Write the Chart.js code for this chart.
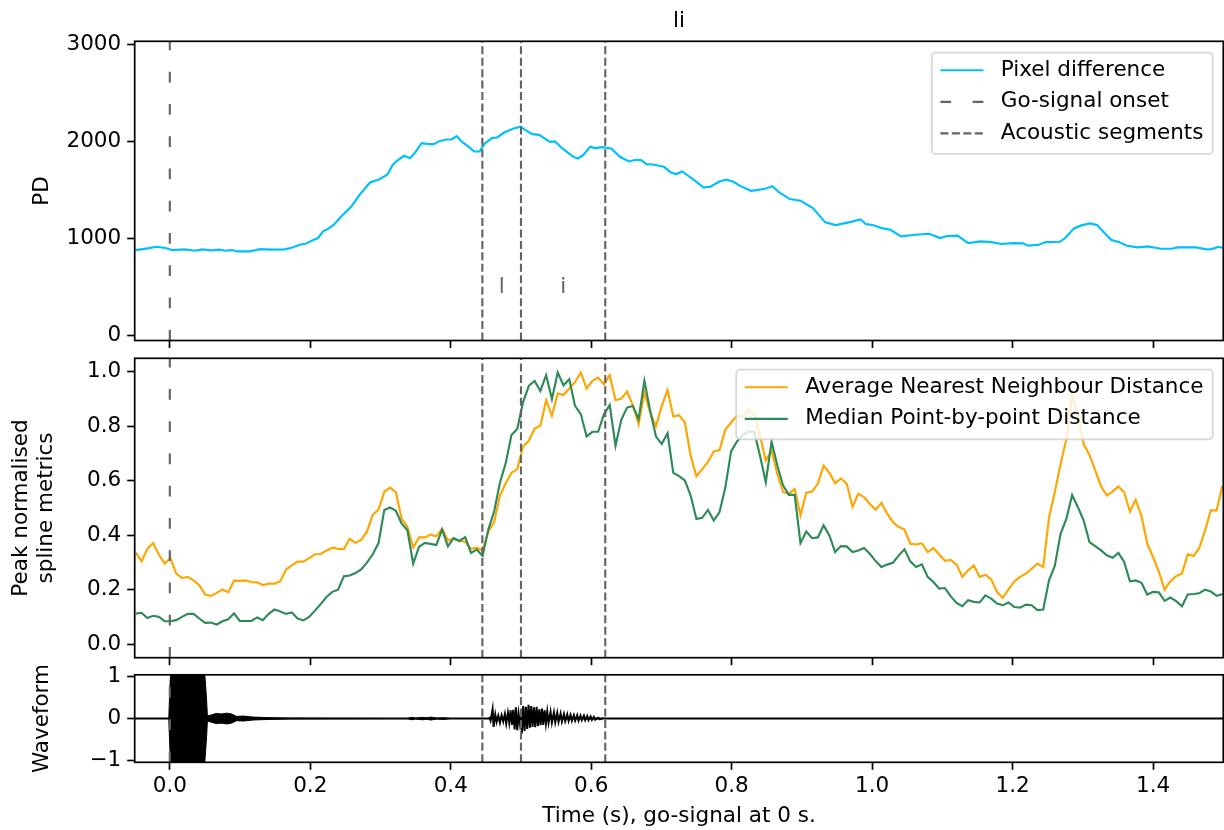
<!DOCTYPE html>
<html>
<head>
<meta charset="utf-8">
<script src="https://cdn.jsdelivr.net/npm/chart.js@4.4.1/dist/chart.umd.min.js"></script>
<style>
  html, body { margin: 0; padding: 0; background: #fff; }
  #wrap { position: relative; width: 1224px; height: 830px; }
  canvas { position: absolute; left: 0; }
</style>
</head>
<body>
<div id="wrap">
  <canvas id="pdChart" width="1224" height="350" style="top:0px"></canvas>
  <canvas id="splineChart" width="1224" height="318" style="top:350px"></canvas>
  <canvas id="waveChart" width="1224" height="230" style="top:600px"></canvas>
</div>
<script>
// woord en tijdsmarkeringen (s)
const word = 'li';
const goSignalTime = 0;
const segmentBounds = [0.445, 0.5, 0.62];
const segmentLabels = ['l', 'i'];
const segmentLabelY = 436;

const xMin = -0.05, xMax = 1.5;
const xTicks = [0, 0.2, 0.4, 0.6, 0.8, 1.0, 1.2, 1.4];
const pdTicks = [0, 1000, 2000, 3000];
const splineTicks = [0, 0.2, 0.4, 0.6, 0.8, 1.0];
const waveTicks = [-1, 0, 1];

// pixel difference
const pdTime = [-0.049, -0.0315, -0.019, -0.0065, 0.0035, 0.021, 0.036, 0.046, 0.0585, 0.071,
  0.0785, 0.0885, 0.096, 0.1135, 0.1285, 0.1435, 0.1635, 0.1735, 0.186, 0.1935,
  0.2035, 0.211, 0.2185, 0.226, 0.2335, 0.246, 0.2585, 0.271, 0.285, 0.2985,
  0.3095, 0.3175, 0.3235, 0.3335, 0.342, 0.3495, 0.3585, 0.3685, 0.376, 0.3835,
  0.3935, 0.401, 0.4085, 0.416, 0.4245, 0.4335, 0.441, 0.4485, 0.4585, 0.466,
  0.476, 0.4885, 0.4995, 0.506, 0.516, 0.526, 0.541, 0.5485, 0.5585, 0.5735,
  0.581, 0.5885, 0.5985, 0.606, 0.616, 0.6285, 0.641, 0.6535, 0.6635, 0.671,
  0.6785, 0.6885, 0.7035, 0.7135, 0.721, 0.7296, 0.7447, 0.7598, 0.7698, 0.7824,
  0.7925, 0.8025, 0.8126, 0.8276, 0.8352, 0.8477, 0.8578, 0.8678, 0.8829, 0.898,
  0.9156, 0.9332, 0.9482, 0.9683, 0.9834, 0.991, 1.001, 1.0136, 1.0261, 1.0412,
  1.0613, 1.0814, 1.0965, 1.1065, 1.1216, 1.1367, 1.1543, 1.1693, 1.1844, 1.1995,
  1.2146, 1.2221, 1.2372, 1.2472, 1.2673, 1.2749, 1.2874, 1.2975, 1.31, 1.3201,
  1.3302, 1.3402, 1.3528, 1.3628, 1.3779, 1.393, 1.4106, 1.4256, 1.4357, 1.4608,
  1.4759, 1.4834, 1.4935, 1.5];
const pdValue = [881, 898, 915, 902, 881, 888, 874, 888, 878, 885,
  874, 881, 867, 867, 891, 885, 888, 905, 939, 946,
  981, 1005, 1077, 1101, 1142, 1241, 1330, 1457, 1577, 1611,
  1656, 1759, 1800, 1851, 1827, 1886, 1982, 1971, 1971, 2002,
  2019, 2019, 2054, 1995, 1951, 1896, 1896, 1978, 2033, 2040,
  2091, 2129, 2150, 2119, 2074, 2067, 1995, 1999, 1930, 1845,
  1824, 1858, 1944, 1930, 1941, 1927, 1841, 1793, 1810, 1807,
  1766, 1762, 1738, 1680, 1663, 1690, 1611, 1526, 1533, 1587,
  1605, 1584, 1539, 1491, 1498, 1512, 1539, 1474, 1406, 1389,
  1313, 1166, 1138, 1169, 1197, 1149, 1138, 1107, 1090, 1022,
  1039, 1049, 1005, 1025, 1029, 953, 970, 963, 943, 953,
  950, 926, 936, 963, 967, 1005, 1104, 1135, 1155, 1138,
  1063, 987, 960, 926, 909, 919, 895, 895, 909, 909,
  888, 891, 915, 902];

// spline metrics, een waarde per videoframe
const frameStart = -0.0485;
const frameStep = 0.00823;
const annDistance = [0.336, 0.304, 0.35, 0.371, 0.328, 0.296, 0.316, 0.259, 0.243, 0.247,
  0.234, 0.216, 0.182, 0.177, 0.188, 0.201, 0.19, 0.233, 0.232, 0.234,
  0.228, 0.227, 0.217, 0.222, 0.222, 0.231, 0.274, 0.289, 0.303, 0.303,
  0.316, 0.33, 0.331, 0.344, 0.354, 0.35, 0.349, 0.387, 0.372, 0.383,
  0.414, 0.475, 0.494, 0.56, 0.575, 0.558, 0.46, 0.43, 0.355, 0.392,
  0.392, 0.402, 0.396, 0.424, 0.381, 0.387, 0.378, 0.377, 0.35, 0.354,
  0.344, 0.414, 0.448, 0.546, 0.591, 0.629, 0.643, 0.726, 0.747, 0.792,
  0.802, 0.896, 0.839, 0.921, 0.915, 0.939, 0.963, 0.998, 0.939, 0.967,
  0.979, 0.954, 0.988, 0.896, 0.902, 0.928, 0.878, 0.808, 0.924, 0.851,
  0.8, 0.875, 0.933, 0.836, 0.841, 0.814, 0.692, 0.617, 0.643, 0.67,
  0.708, 0.713, 0.788, 0.814, 0.839, 0.835, 0.861, 0.845, 0.766, 0.674,
  0.711, 0.625, 0.558, 0.552, 0.57, 0.473, 0.556, 0.56, 0.589, 0.656,
  0.629, 0.591, 0.609, 0.589, 0.505, 0.552, 0.54, 0.515, 0.494, 0.519,
  0.479, 0.448, 0.43, 0.421, 0.369, 0.366, 0.371, 0.338, 0.353, 0.329,
  0.306, 0.309, 0.292, 0.247, 0.271, 0.289, 0.247, 0.255, 0.238, 0.192,
  0.17, 0.201, 0.231, 0.247, 0.259, 0.277, 0.296, 0.283, 0.466, 0.558,
  0.662, 0.753, 0.918, 0.833, 0.735, 0.695, 0.637, 0.58, 0.546, 0.56,
  0.579, 0.558, 0.487, 0.53, 0.47, 0.369, 0.32, 0.265, 0.2, 0.231,
  0.25, 0.259, 0.33, 0.324, 0.353, 0.418, 0.491, 0.491, 0.582];
const medianDistance = [0.112, 0.115, 0.096, 0.104, 0.1, 0.084, 0.084, 0.088, 0.1, 0.111,
  0.111, 0.094, 0.078, 0.079, 0.072, 0.084, 0.091, 0.113, 0.085, 0.085,
  0.085, 0.098, 0.088, 0.111, 0.127, 0.12, 0.111, 0.116, 0.094, 0.087,
  0.1, 0.123, 0.147, 0.173, 0.192, 0.2, 0.249, 0.252, 0.261, 0.274,
  0.299, 0.33, 0.371, 0.493, 0.502, 0.49, 0.442, 0.418, 0.295, 0.357,
  0.372, 0.368, 0.364, 0.421, 0.359, 0.389, 0.379, 0.393, 0.335, 0.347,
  0.324, 0.421, 0.487, 0.592, 0.664, 0.768, 0.79, 0.888, 0.949, 0.967,
  0.93, 0.988, 0.9, 0.998, 0.951, 0.973, 0.875, 0.845, 0.763, 0.78,
  0.78, 0.845, 0.878, 0.729, 0.824, 0.869, 0.875, 0.827, 0.967, 0.857,
  0.763, 0.735, 0.775, 0.629, 0.617, 0.601, 0.546, 0.46, 0.464, 0.493,
  0.454, 0.485, 0.576, 0.708, 0.744, 0.768, 0.781, 0.78, 0.692, 0.595,
  0.744, 0.656, 0.582, 0.548, 0.548, 0.371, 0.414, 0.389, 0.392, 0.436,
  0.399, 0.338, 0.36, 0.359, 0.338, 0.344, 0.353, 0.332, 0.305, 0.283,
  0.292, 0.299, 0.326, 0.348, 0.304, 0.283, 0.293, 0.247, 0.228, 0.204,
  0.206, 0.175, 0.151, 0.139, 0.161, 0.155, 0.153, 0.179, 0.167, 0.149,
  0.143, 0.153, 0.136, 0.134, 0.145, 0.143, 0.125, 0.127, 0.234, 0.287,
  0.405, 0.46, 0.548, 0.503, 0.454, 0.375, 0.36, 0.344, 0.326, 0.317,
  0.335, 0.302, 0.231, 0.234, 0.225, 0.182, 0.192, 0.19, 0.159, 0.171,
  0.158, 0.139, 0.182, 0.184, 0.187, 0.2, 0.193, 0.177, 0.184];

// waveform: omhullende van de go-toon en pieken van het gesproken woord
const waveBaseline = 0;
const envTime = [-0.0015, 0.0005, 0.002, 0.049, 0.0505, 0.0525, 0.0535, 0.0596, 0.0658, 0.0739,
  0.081, 0.088, 0.0952, 0.1047, 0.119, 0.1426, 0.171, 0.338, 0.345, 0.35,
  0.36, 0.365, 0.372, 0.38, 0.39, 0.4];
const envAmp = [0, 0.9, 1.2, 1.2, 0.9, 0.4, 0.06, 0.09, 0.12, 0.11,
  0.13, 0.11, 0.05, 0.06, 0.035, 0.02, 0.008, 0, 0.03, 0.01,
  0.03, 0.015, 0.035, 0.01, 0.02, 0];
const burstTime = [0.4548, 0.4567, 0.4596, 0.461, 0.4634, 0.4653, 0.4677, 0.47, 0.4724, 0.4748,
  0.4771, 0.479, 0.4814, 0.4833, 0.4852, 0.4871, 0.489, 0.4909, 0.4928, 0.4947,
  0.4966, 0.4985, 0.4999, 0.5013, 0.5032, 0.5051, 0.507, 0.5089, 0.5108, 0.5127,
  0.5146, 0.5165, 0.5184, 0.5203, 0.5222, 0.5241, 0.526, 0.5279, 0.5298, 0.5317,
  0.5336, 0.5355, 0.5374, 0.5393, 0.5421, 0.544, 0.5469, 0.5488, 0.5516, 0.5535,
  0.5564, 0.5583, 0.5611, 0.563, 0.5659, 0.5678, 0.5706, 0.5725, 0.5753, 0.5772,
  0.5801, 0.582, 0.5848, 0.5867, 0.5896, 0.5915, 0.5943, 0.5962, 0.5991, 0.601,
  0.6038, 0.6057, 0.61, 0.6124, 0.6171];
const burstValue = [0.04, -0.05, 0.23, -0.2, 0.1, -0.08, 0.07, -0.1, 0.08, -0.07,
  0.11, -0.12, 0.14, -0.1, 0.2, -0.15, 0.21, -0.26, 0.27, -0.28,
  0.12, -0.12, 0.05, -0.36, 0.3, -0.3, 0.28, -0.25, 0.33, -0.22,
  0.3, -0.2, 0.27, -0.21, 0.28, -0.18, 0.22, -0.16, 0.24, -0.15,
  0.2, -0.12, 0.17, -0.1, 0.16, -0.1, 0.15, -0.09, 0.14, -0.08,
  0.12, -0.07, 0.11, -0.06, 0.1, -0.06, 0.09, -0.05, 0.08, -0.05,
  0.08, -0.05, 0.07, -0.04, 0.07, -0.04, 0.06, -0.04, 0.05, -0.03,
  0.04, -0.03, 0.02, -0.02, 0.01];

const FONT = 'DejaVu Sans';
const FS = 21.5;
const GREY = '#646464';
const LW = 2.15;
Chart.defaults.font.family = FONT;
Chart.defaults.font.size = FS;
Chart.defaults.color = '#000';

const pts = (xs, ys) => xs.map((x, i) => ({x: x, y: ys[i]}));
const framePts = vals => vals.map((v, i) => ({x: frameStart + i * frameStep, y: v}));

// kader om het plotgebied
const frame = {
  id: 'frame',
  afterDatasetsDraw(chart) {
    const {ctx, chartArea: a} = chart;
    ctx.save();
    ctx.strokeStyle = '#000';
    ctx.lineWidth = 1.7;
    ctx.strokeRect(a.left, a.top, a.right - a.left, a.bottom - a.top);
    ctx.restore();
  }
};

// legenda in matplotlib-stijl, rechtsboven in het plotgebied
const boxLegend = {
  id: 'boxLegend',
  afterDraw(chart) {
    const items = chart.data.datasets.filter(d => d.label);
    if (!items.length) return;
    const {ctx, chartArea: a} = chart;
    ctx.save();
    ctx.font = FS + 'px "' + FONT + '"';
    const textW = Math.max(...items.map(d => ctx.measureText(d.label).width));
    const w = 69 + textW + 9.3;
    const h = 17.5 + (items.length - 1) * 31.6 + 20.5;
    const x0 = a.right - 10.5 - w, y0 = a.top + 11.4, r = 4;
    ctx.beginPath();
    ctx.moveTo(x0 + r, y0);
    ctx.arcTo(x0 + w, y0, x0 + w, y0 + h, r);
    ctx.arcTo(x0 + w, y0 + h, x0, y0 + h, r);
    ctx.arcTo(x0, y0 + h, x0, y0, r);
    ctx.arcTo(x0, y0, x0 + w, y0, r);
    ctx.closePath();
    ctx.fillStyle = 'rgba(255,255,255,0.8)';
    ctx.fill();
    ctx.strokeStyle = 'rgba(204,204,204,0.8)';
    ctx.lineWidth = 1.7;
    ctx.stroke();
    items.forEach((d, i) => {
      const yc = y0 + 17.5 + i * 31.6;
      ctx.beginPath();
      ctx.setLineDash(d.borderDash || []);
      ctx.strokeStyle = d.borderColor;
      ctx.lineWidth = d.borderWidth;
      ctx.moveTo(x0 + 8.6, yc);
      ctx.lineTo(x0 + 8.6 + 43, yc);
      ctx.stroke();
      ctx.setLineDash([]);
      ctx.fillStyle = '#000';
      ctx.textAlign = 'left';
      ctx.textBaseline = 'middle';
      ctx.fillText(d.label, x0 + 69, yc);
    });
    ctx.restore();
  }
};

// segmentletters tussen de akoestische grenzen
const segmentText = {
  id: 'segmentText',
  afterDatasetsDraw(chart) {
    const {ctx, scales} = chart;
    ctx.save();
    ctx.font = FS + 'px "' + FONT + '"';
    ctx.fillStyle = GREY;
    ctx.textAlign = 'center';
    ctx.textBaseline = 'alphabetic';
    segmentLabels.forEach((s, i) => {
      const mid = (segmentBounds[i] + segmentBounds[i + 1]) / 2;
      ctx.fillText(s, scales.x.getPixelForValue(mid), scales.y.getPixelForValue(segmentLabelY));
    });
    ctx.restore();
  }
};

function markerSets(yMin, yMax, labelled) {
  const sets = [{
    label: labelled ? 'Go-signal onset' : '',
    data: [{x: goSignalTime, y: yMin}, {x: goSignalTime, y: yMax}],
    borderColor: GREY, borderWidth: LW, borderDash: [10.75, 21.5],
    pointRadius: 0, order: 1
  }];
  segmentBounds.forEach((t, i) => sets.push({
    label: labelled && i === 0 ? 'Acoustic segments' : '',
    data: [{x: t, y: yMin}, {x: t, y: yMax}],
    borderColor: GREY, borderWidth: LW, borderDash: [8, 3.45],
    pointRadius: 0, order: 1
  }));
  return sets;
}

function noPad(s) {
  s.paddingTop = 0; s.paddingBottom = 0; s.paddingLeft = 0; s.paddingRight = 0;
}

function xScale(axisHeight, showLabels) {
  return {
    type: 'linear', min: xMin, max: xMax,
    afterBuildTicks: s => { s.ticks = xTicks.map(v => ({value: v})); },
    afterFit: s => { s.height = axisHeight; noPad(s); },
    ticks: { display: showLabels, padding: 4, maxRotation: 0, autoSkip: false,
      callback: v => v.toFixed(1) },
    grid: { drawOnChartArea: false, drawTicks: true, tickLength: 7.5,
      tickWidth: 1.7, tickColor: '#000' },
    border: { display: false },
    title: { display: showLabels, text: 'Time (s), go-signal at 0 s.',
      padding: { top: 0, bottom: 1 } }
  };
}

function yScale(min, max, tickVals, fmt, title, titlePad, lineHeight) {
  return {
    type: 'linear', min: min, max: max,
    afterBuildTicks: s => { s.ticks = tickVals.map(v => ({value: v})); },
    afterFit: s => { s.width = 134.7; noPad(s); },
    ticks: { padding: 6, callback: fmt },
    grid: { drawOnChartArea: false, drawTicks: true, tickLength: 7.5,
      tickWidth: 1.7, tickColor: '#000' },
    border: { display: false },
    title: { display: true, text: title, padding: { top: titlePad, bottom: 0 },
      font: { size: FS, lineHeight: lineHeight || 1.2 } }
  };
}

const baseOptions = {
  responsive: false, animation: false, devicePixelRatio: 1,
  events: []
};

// paneel 1: pixel difference
const pdMin = -50, pdMax = 3030;
new Chart(document.getElementById('pdChart'), {
  type: 'line',
  data: {
    datasets: [{
      label: 'Pixel difference',
      data: pts(pdTime, pdValue),
      borderColor: '#00bfff', borderWidth: LW, pointRadius: 0, clip: 0, order: 5
    }].concat(markerSets(pdMin, pdMax, true))
  },
  options: Object.assign({}, baseOptions, {
    layout: { padding: { left: 0, right: 0.7, top: 0, bottom: 0 }, autoPadding: false },
    plugins: {
      legend: { display: false }, tooltip: { enabled: false },
      title: { display: true, text: word, fullSize: false, color: '#000',
        font: { size: FS, weight: 'normal' }, padding: { top: 8.7, bottom: 6.8 } }
    },
    scales: {
      x: xScale(9.5, false),
      y: yScale(pdMin, pdMax, pdTicks, v => String(v), 'PD', 29.5)
    }
  }),
  plugins: [frame, segmentText, boxLegend]
});

// paneel 2: genormaliseerde spline metrics
const spMin = -0.05, spMax = 1.05;
new Chart(document.getElementById('splineChart'), {
  type: 'line',
  data: {
    datasets: [{
      label: 'Average Nearest Neighbour Distance',
      data: framePts(annDistance),
      borderColor: '#ffa500', borderWidth: LW, pointRadius: 0, clip: 0, order: 6
    }, {
      label: 'Median Point-by-point Distance',
      data: framePts(medianDistance),
      borderColor: '#2e8b57', borderWidth: LW, pointRadius: 0, clip: 0, order: 5
    }].concat(markerSets(spMin, spMax, false))
  },
  options: Object.assign({}, baseOptions, {
    layout: { padding: { left: 0, right: 0.7, top: 8.3, bottom: 0 }, autoPadding: false },
    plugins: { legend: { display: false }, tooltip: { enabled: false } },
    scales: {
      x: xScale(10.3, false),
      y: yScale(spMin, spMax, splineTicks, v => v.toFixed(1),
        ['Peak normalised', 'spline metrics'], 9.1, 1.15)
    }
  }),
  plugins: [frame, boxLegend]
});

// paneel 3: waveform
const wvMin = -1.05, wvMax = 1.05;
new Chart(document.getElementById('waveChart'), {
  type: 'line',
  data: {
    datasets: [{
      data: pts(envTime, envAmp),
      borderColor: '#000', borderWidth: 1, backgroundColor: '#000',
      fill: '+1', pointRadius: 0, clip: 0, order: 6
    }, {
      data: pts(envTime, envAmp.map(a => -a)),
      borderColor: '#000', borderWidth: 1, pointRadius: 0, clip: 0, order: 6
    }, {
      data: [{x: xMin, y: waveBaseline}, {x: xMax, y: waveBaseline}],
      borderColor: '#000', borderWidth: 2, pointRadius: 0, clip: 0, order: 5
    }, {
      data: pts(burstTime, burstValue),
      borderColor: '#000', borderWidth: 2, pointRadius: 0, clip: 0, order: 4
    }].concat(markerSets(wvMin, wvMax, false))
  },
  options: Object.assign({}, baseOptions, {
    layout: { padding: { left: 0, right: 0.7, top: 74.8, bottom: 0 }, autoPadding: false },
    plugins: { legend: { display: false }, tooltip: { enabled: false }, filler: { propagate: false } },
    scales: {
      x: xScale(67.7, true),
      y: yScale(wvMin, wvMax, waveTicks, v => (v < 0 ? '\u2212' + Math.abs(v) : String(v)), 'Waveform', 29.5)
    }
  }),
  plugins: [frame]
});
</script>
</body>
</html>
